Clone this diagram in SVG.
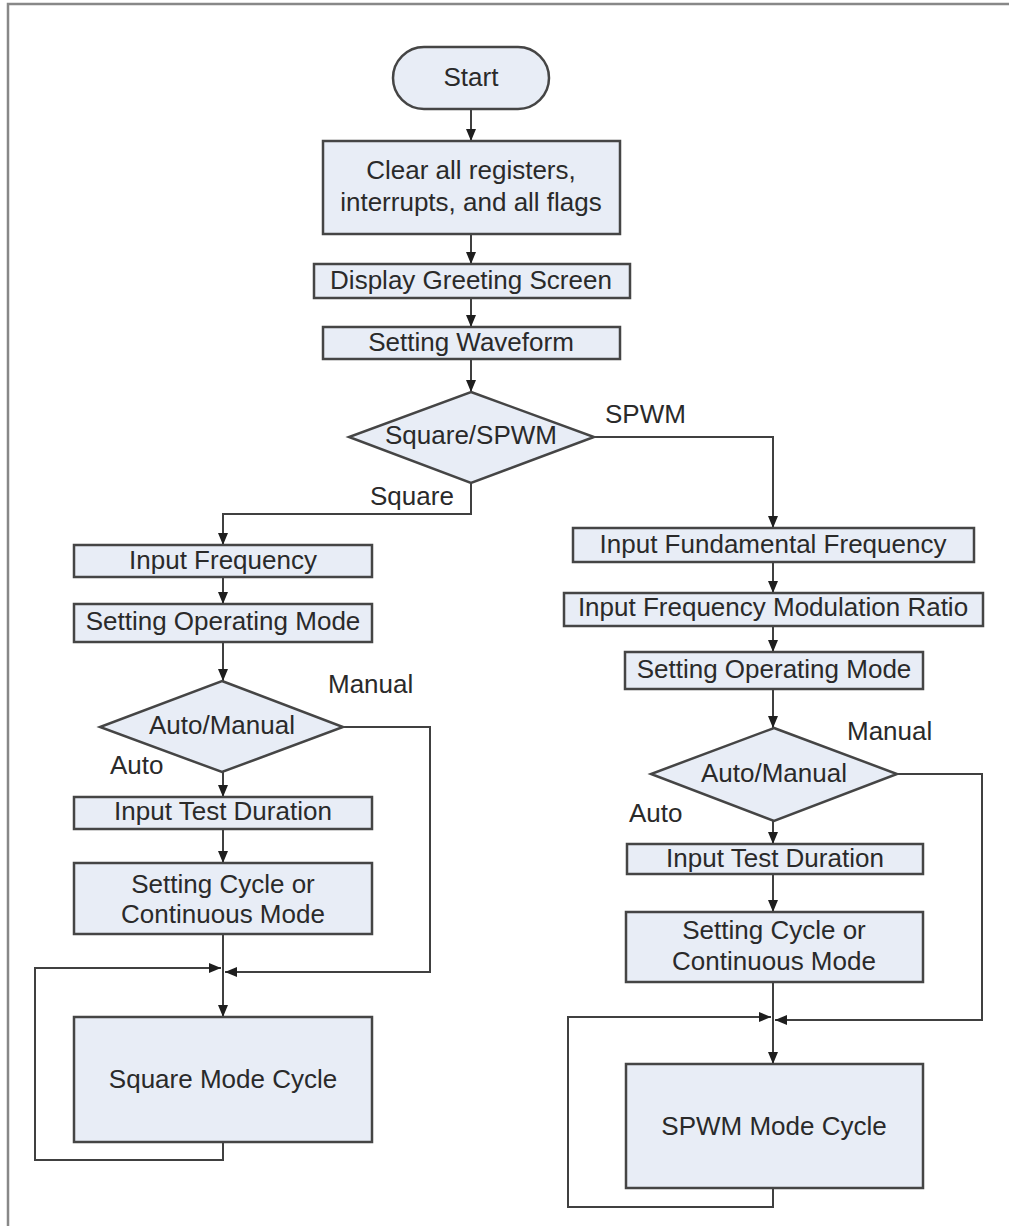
<svg xmlns="http://www.w3.org/2000/svg" width="1009" height="1226" viewBox="0 0 1009 1226">
<style>
.n{fill:#e8edf6;stroke:#454545;stroke-width:2.5}
.t{font-family:"Liberation Sans",Arial,sans-serif;font-size:26px;fill:#2a2a2a;text-anchor:middle}
.l{font-family:"Liberation Sans",Arial,sans-serif;font-size:26px;fill:#2a2a2a}
.c{fill:none;stroke:#404040;stroke-width:2}
</style>
<defs>
<marker id="a" viewBox="0 0 12 10" refX="12" refY="5" markerWidth="12" markerHeight="10" markerUnits="userSpaceOnUse" orient="auto">
<path d="M0,0 L12,5 L0,10 z" fill="#1e1e1e"/>
</marker>
</defs>
<rect width="1009" height="1226" fill="#fff"/>
<path d="M8,1226 V4 H1009" fill="none" stroke="#888" stroke-width="2.5"/>

<g id="connectors">
<path class="c" d="M471,109 V141" marker-end="url(#a)"/>
<path class="c" d="M471,234 V264" marker-end="url(#a)"/>
<path class="c" d="M471,298 V327" marker-end="url(#a)"/>
<path class="c" d="M471,359 V392" marker-end="url(#a)"/>
<path class="c" d="M471,483 V514 H223 V545" marker-end="url(#a)"/>
<path class="c" d="M594,437 H773 V528" marker-end="url(#a)"/>
<path class="c" d="M223,577 V604" marker-end="url(#a)"/>
<path class="c" d="M223,642 V681" marker-end="url(#a)"/>
<path class="c" d="M223,772 V797" marker-end="url(#a)"/>
<path class="c" d="M223,829 V863" marker-end="url(#a)"/>
<path class="c" d="M223,934 V1017" marker-end="url(#a)"/>
<path class="c" d="M343,727 H430 V972 H225" marker-end="url(#a)"/>
<path class="c" d="M223,1142 V1160 H35 V968 H221" marker-end="url(#a)"/>
<path class="c" d="M773,562 V593" marker-end="url(#a)"/>
<path class="c" d="M773,626 V652" marker-end="url(#a)"/>
<path class="c" d="M773,689 V728" marker-end="url(#a)"/>
<path class="c" d="M773,821 V844" marker-end="url(#a)"/>
<path class="c" d="M773,874 V912" marker-end="url(#a)"/>
<path class="c" d="M773,982 V1064" marker-end="url(#a)"/>
<path class="c" d="M897,774 H982 V1020 H775" marker-end="url(#a)"/>
<path class="c" d="M773,1188 V1207 H568 V1017 H771" marker-end="url(#a)"/>
<text class="l" x="605" y="423">SPWM</text>
<text class="l" x="370" y="505">Square</text>
<text class="l" x="328" y="693">Manual</text>
<text class="l" x="110" y="774">Auto</text>
<text class="l" x="847" y="740">Manual</text>
<text class="l" x="629" y="822">Auto</text>
</g>

<g id="start"><rect class="n" x="393" y="47" width="156" height="62" rx="31"/><text class="t" x="471" y="86">Start</text></g>
<g id="clear"><rect class="n" x="323" y="141" width="297" height="93"/><text class="t" x="471" y="179">Clear all registers,</text><text class="t" x="471" y="211">interrupts, and all flags</text></g>
<g id="greeting"><rect class="n" x="314" y="264" width="316" height="34"/><text class="t" x="471" y="289">Display Greeting Screen</text></g>
<g id="waveform"><rect class="n" x="323" y="327" width="297" height="32"/><text class="t" x="471" y="351">Setting Waveform</text></g>
<g id="dec1"><polygon class="n" points="471,392 594,437 471,483 349,437"/><text class="t" x="471" y="444">Square/SPWM</text></g>

<g id="sq-freq"><rect class="n" x="74" y="545" width="298" height="32"/><text class="t" x="223" y="569">Input Frequency</text></g>
<g id="sq-mode"><rect class="n" x="74" y="604" width="298" height="38"/><text class="t" x="223" y="630">Setting Operating Mode</text></g>
<g id="sq-dec"><polygon class="n" points="222,681 343,727 222,772 100,727"/><text class="t" x="222" y="734">Auto/Manual</text></g>
<g id="sq-dur"><rect class="n" x="74" y="797" width="298" height="32"/><text class="t" x="223" y="820">Input Test Duration</text></g>
<g id="sq-cyc"><rect class="n" x="74" y="863" width="298" height="71"/><text class="t" x="223" y="893">Setting Cycle or</text><text class="t" x="223" y="923">Continuous Mode</text></g>
<g id="sq-run"><rect class="n" x="74" y="1017" width="298" height="125"/><text class="t" x="223" y="1088">Square Mode Cycle</text></g>

<g id="sp-fund"><rect class="n" x="573" y="528" width="401" height="34"/><text class="t" x="773" y="553">Input Fundamental Frequency</text></g>
<g id="sp-ratio"><rect class="n" x="564" y="593" width="419" height="33"/><text class="t" x="773" y="616">Input Frequency Modulation Ratio</text></g>
<g id="sp-mode"><rect class="n" x="625" y="652" width="298" height="37"/><text class="t" x="774" y="678">Setting Operating Mode</text></g>
<g id="sp-dec"><polygon class="n" points="774,728 897,774 774,821 651,774"/><text class="t" x="774" y="782">Auto/Manual</text></g>
<g id="sp-dur"><rect class="n" x="627" y="844" width="296" height="30"/><text class="t" x="775" y="867">Input Test Duration</text></g>
<g id="sp-cyc"><rect class="n" x="626" y="912" width="297" height="70"/><text class="t" x="774" y="939">Setting Cycle or</text><text class="t" x="774" y="970">Continuous Mode</text></g>
<g id="sp-run"><rect class="n" x="626" y="1064" width="297" height="124"/><text class="t" x="774" y="1135">SPWM Mode Cycle</text></g>
</svg>
